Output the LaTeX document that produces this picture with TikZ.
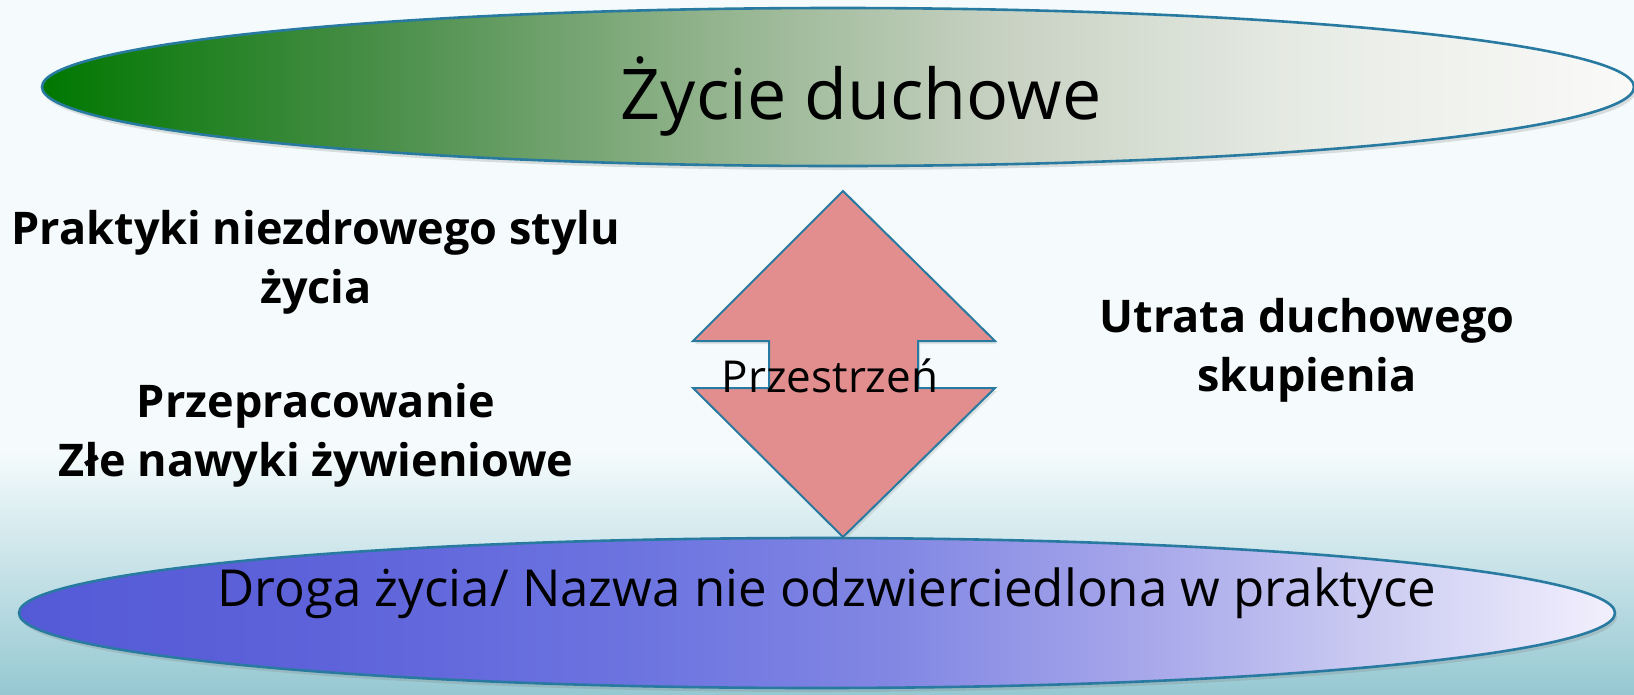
\documentclass[tikz,border=0pt]{standalone}
\usepackage{fontspec}
\setmainfont{Open Sans}
\usetikzlibrary{shapes.geometric,shadows}

\definecolor{rimblue}{RGB}{40,122,160}
\definecolor{bgwhite}{RGB}{245,251,252}
\definecolor{bgteal}{RGB}{150,200,210}
\definecolor{rosefill}{RGB}{227,142,142}

% fills of the two ovals
\pgfdeclarehorizontalshading{greenfade}{100bp}{
  rgb(0bp)=(0,0.47,0); rgb(25bp)=(0,0.47,0);
  rgb(35bp)=(0.27,0.55,0.27); rgb(45bp)=(0.55,0.69,0.53);
  rgb(55bp)=(0.78,0.82,0.76); rgb(65bp)=(0.91,0.925,0.9);
  rgb(75bp)=(0.98,0.98,0.975); rgb(100bp)=(0.98,0.98,0.975)}
\pgfdeclarehorizontalshading{violetfade}{100bp}{
  rgb(0bp)=(0.33,0.35,0.84); rgb(25bp)=(0.33,0.35,0.84);
  rgb(35bp)=(0.37,0.39,0.855); rgb(45bp)=(0.43,0.46,0.88);
  rgb(52.5bp)=(0.51,0.53,0.89); rgb(60bp)=(0.65,0.65,0.92);
  rgb(67.5bp)=(0.8,0.8,0.95); rgb(75bp)=(0.95,0.94,0.99);
  rgb(100bp)=(0.95,0.94,0.99)}

\tikzset{
  oval/.style={ellipse, draw=rimblue, line width=2.6pt, inner sep=0pt,
    drop shadow={opacity=0.25, shadow xshift=2pt, shadow yshift=-4pt}},
  ovaltext/.style={font=\fontsize{51}{56}\selectfont, anchor=base},
  sidetext/.style={font=\bfseries\fontsize{45}{59}\selectfont, align=center},
  updown/.style={fill=rosefill, draw=rimblue, line width=2pt,
    drop shadow={opacity=0.2, shadow xshift=2pt, shadow yshift=-3pt}}
}

\begin{document}
\begin{tikzpicture}[x=1pt,y=-1pt]
  \useasboundingbox (0,0) rectangle (1634,694);
  % background
  \fill[bgwhite] (0,0) rectangle (1634,694);
  \shade[top color=bgwhite, bottom color=bgteal] (0,450) rectangle (1634,694);

  % the two levels
  \node[oval, minimum width=1592, minimum height=158, shading=greenfade]
    (spirit) at (838,87) {};
  \node[oval, minimum width=1596, minimum height=150, shading=violetfade]
    (path) at (817,613) {};
  \node[ovaltext, font=\fontsize{70}{76}\selectfont] (spirittext) at (861,119) {Życie duchowe};
  \node[ovaltext] (pathtext) at (827,606) {Droga życia/ Nazwa nie odzwierciedlona w praktyce};

  % double arrow between them
  \coordinate (top) at (843,191);
  \coordinate (bottom) at (843,537);
  \draw[updown] (top) -- (995,341) -- (918,341) -- (918,388) -- (995,388)
    -- (bottom) -- (693,388) -- (769,388) -- (769,341) -- (693,341) -- cycle;
  \node[font=\fontsize{44}{48}\selectfont, anchor=base] (space) at (830,392) {Przestrzeń};

  % side notes
  \node[sidetext] (habits) at (316,262) {Praktyki niezdrowego stylu\\życia};
  \node[sidetext] (overwork) at (316,435) {Przepracowanie\\Złe nawyki żywieniowe};
  \node[sidetext] (focus) at (1307,350) {Utrata duchowego\\skupienia};
\end{tikzpicture}
\end{document}
